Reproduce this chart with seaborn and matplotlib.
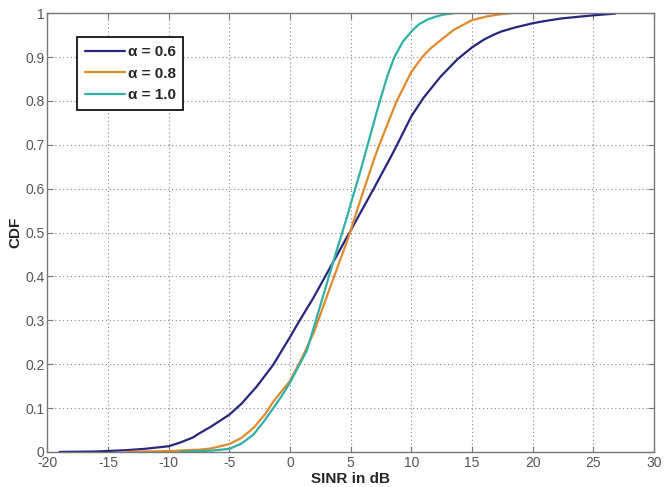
import matplotlib
matplotlib.use("Agg")
import matplotlib.pyplot as plt
import seaborn as sns
import pandas as pd

# alpha = 0.6
x_a06 = [-19, -16, -13.5, -12, -11, -10, -9, -8, -7.5, -6.5, -5, -4, -2.75, -1.4, 0, 0.8, 1.9, 3.3, 5.0, 6.9, 8.55, 10, 11, 12.4, 13.8, 15, 16, 16.8, 17.4, 18.5, 20, 21, 22.4, 23.5, 25, 26.8]
y_a06 = [0.0, 0.001, 0.004, 0.007, 0.01, 0.013, 0.022, 0.033, 0.042, 0.058, 0.085, 0.11, 0.149, 0.198, 0.262, 0.30, 0.35, 0.42, 0.505, 0.60, 0.685, 0.765, 0.807, 0.855, 0.895, 0.922, 0.94, 0.951, 0.958, 0.967, 0.977, 0.982, 0.988, 0.991, 0.995, 0.999]

# alpha = 0.8
x_a08 = [-13.5, -12, -10, -8.5, -7.5, -6.5, -5, -4, -3, -2, -1.4, -0.7, 0, 1, 2, 3.3, 4.7, 5.8, 6.9, 7.2, 8.0, 8.8, 10, 10.9, 11.6, 12.4, 13.5, 15, 16.3, 17.2, 18.2]
y_a08 = [0.0, 0.001, 0.002, 0.004, 0.005, 0.008, 0.018, 0.032, 0.055, 0.088, 0.114, 0.138, 0.162, 0.215, 0.275, 0.375, 0.48, 0.574, 0.665, 0.688, 0.745, 0.8, 0.866, 0.9, 0.92, 0.938, 0.962, 0.984, 0.993, 0.997, 1.0]

# alpha = 1.0
x_a10 = [-9.1, -7.5, -6.5, -5, -4, -3, -2.2, -1.4, -0.7, 0, 1.4, 2.4, 3.6, 4.7, 5.0, 5.85, 6.5, 7.2, 8.0, 8.6, 9.3, 10, 10.6, 11.3, 12, 12.7, 13.5]
y_a10 = [0.0, 0.002, 0.003, 0.007, 0.019, 0.04, 0.068, 0.099, 0.127, 0.158, 0.232, 0.325, 0.437, 0.536, 0.565, 0.645, 0.71, 0.78, 0.855, 0.9, 0.935, 0.958, 0.974, 0.985, 0.992, 0.997, 1.0]

labels = ["\u03b1 = 0.6", "\u03b1 = 0.8", "\u03b1 = 1.0"]
colors = ["#26267f", "#E08A2E", "#30B0A6"]

xticks = [-20, -15, -10, -5, 0, 5, 10, 15, 20, 25, 30]
yticks = [0, 0.1, 0.2, 0.3, 0.4, 0.5, 0.6, 0.7, 0.8, 0.9, 1]
ytick_labels = ["0", "0.1", "0.2", "0.3", "0.4", "0.5", "0.6", "0.7", "0.8", "0.9", "1"]

df = pd.concat([
    pd.DataFrame({"x": x_a06, "y": y_a06, "series": labels[0]}),
    pd.DataFrame({"x": x_a08, "y": y_a08, "series": labels[1]}),
    pd.DataFrame({"x": x_a10, "y": y_a10, "series": labels[2]}),
], ignore_index=True)

sns.set_style("white")
plt.rcParams["font.family"] = ["Liberation Sans", "DejaVu Sans"]

fig = plt.figure(figsize=(6.68, 4.87), dpi=100)
ax = fig.add_axes([0.071, 0.072, 0.908, 0.901])

sns.lineplot(data=df, x="x", y="y", hue="series", hue_order=labels,
             palette=colors, linewidth=1.6, sort=False, estimator=None, ax=ax)

ax.set_xlim(-20, 30)
ax.set_ylim(0, 1)
ax.set_xticks(xticks)
ax.set_xticklabels([str(t) for t in xticks])
ax.set_yticks(yticks)
ax.set_yticklabels(ytick_labels)
ax.grid(True, linestyle=(0, (1, 2.5)), color="#888888", linewidth=0.8)
for s in ax.spines.values():
    s.set_color("#777777")
    s.set_linewidth(1.0)
    s.set_visible(True)
ax.tick_params(direction="in", length=4, color="#777777", labelcolor="#555555",
               labelsize=10, top=True, right=True, bottom=True, left=True, pad=3)
ax.tick_params(axis="y", pad=2)
ax.set_xlabel("SINR in dB", fontsize=11, fontweight="bold")
ax.set_ylabel("CDF", fontsize=11, fontweight="bold")
ax.xaxis.set_label_coords(0.5, -0.045)
ax.yaxis.set_label_coords(-0.041, 0.5)

leg = ax.legend(loc="upper left", bbox_to_anchor=(0.049, 0.945), fancybox=False,
                framealpha=1, edgecolor="black", fontsize=11, handlelength=2.6,
                handletextpad=0.2, borderpad=0.5, labelspacing=0.5, borderaxespad=0)
leg.get_frame().set_linewidth(1.2)
for t in leg.get_texts():
    t.set_fontweight("bold")

fig.savefig("out.png", dpi=100)
